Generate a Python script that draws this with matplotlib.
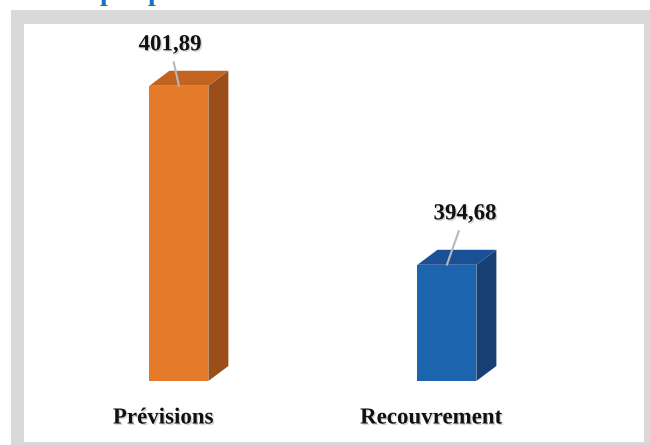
import matplotlib.pyplot as plt
import matplotlib.patheffects as pe
from matplotlib.patches import Rectangle, Polygon

categories = ["Prévisions", "Recouvrement"]
values = [401.89, 394.68]
value_labels = ["401,89", "394,68"]
base = 390.0

front_colors = ["#E57A2B", "#1D64AF"]
top_colors = ["#C2631F", "#1A5196"]
side_colors = ["#9B4E18", "#163F74"]

W, H = 650, 445
fig = plt.figure(figsize=(W / 100, H / 100), dpi=100)
fig.patch.set_facecolor("white")

# grey frame and white panel, in pixel units from the top-left corner
def px_rect(x0, y0, x1, y1, color):
    fig.add_artist(Rectangle((x0 / W, 1 - y1 / H), (x1 - x0) / W, (y1 - y0) / H,
                             transform=fig.transFigure, facecolor=color,
                             edgecolor="none", zorder=0))

px_rect(11, 10, W, H, "#d9d9d9")
px_rect(24, 24, 644, 442, "white")

# clipped heading above the frame
for xp in (107, 155):
    fig.text(xp / W, 1.0, "p", fontsize=20, fontweight="bold", color="#1f6fc0",
             family="Liberation Serif", ha="center", va="baseline")

ax = fig.add_axes([24 / W, 64 / H, 620 / W, 357 / H])
ax.set_axis_off()
ax.patch.set_visible(False)

x = [0, 1]
width = 0.22
ax.set_xlim(-0.578, -0.578 + 620 / 268)
ax.set_ylim(base, base + 357 / 24.83)

ax.bar(x, [v - base for v in values], bottom=base, width=width,
       color=front_colors, zorder=2)

# 3D depth of each bar
x_per_px = (ax.get_xlim()[1] - ax.get_xlim()[0]) / 620
y_per_px = (ax.get_ylim()[1] - ax.get_ylim()[0]) / 357
dx, dy = 20 * x_per_px, 15 * y_per_px

for xi, v, tc, sc in zip(x, values, top_colors, side_colors):
    x0, x1 = xi - width / 2, xi + width / 2
    side = [(x1, base), (x1 + dx, base + dy), (x1 + dx, v + dy), (x1, v)]
    top = [(x0, v), (x1, v), (x1 + dx, v + dy), (x0 + dx, v + dy)]
    ax.add_patch(Polygon(side, closed=True, facecolor=sc, edgecolor="none",
                         zorder=2, clip_on=False))
    ax.add_patch(Polygon(top, closed=True, facecolor=tc, edgecolor="none",
                         zorder=2, clip_on=False))

shadow = [pe.SimplePatchShadow(offset=(1, -1), shadow_rgbFace="#888888", alpha=0.35),
          pe.Normal()]
font = dict(family="Liberation Serif", fontweight="bold", color="#111111")

# value labels with leader lines
offsets = [(-9, 41), (18, 51)]
for xi, v, lab, off in zip(x, values, value_labels, offsets):
    ax.annotate(lab, xy=(xi, v), xytext=off, textcoords="offset pixels",
                ha="center", va="center", fontsize=16.5, path_effects=shadow,
                arrowprops=dict(arrowstyle="-", color="#b8b8b8", lw=1.5,
                                shrinkA=3, shrinkB=0),
                zorder=3, **font)

# category names under the bars
for xi, cat in zip(x, categories):
    ax.annotate(cat, xy=(xi, base), xytext=(-16, -37), textcoords="offset pixels",
                ha="center", va="center", fontsize=16.5, path_effects=shadow,
                annotation_clip=False, **font)

fig.savefig("out.png", dpi=100)
